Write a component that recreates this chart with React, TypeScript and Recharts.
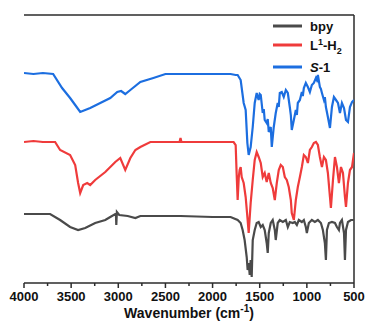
import { LineChart, Line, XAxis, YAxis, ReferenceLine, Legend, Label } from "recharts";

// [wavenumber (cm-1), transmittance (a.u., offset)]
const bpy: [number, number][] = [
  [4000, 69], [3850, 69], [3723, 69], [3617, 63], [3511, 56], [3426, 53], [3351, 55],
  [3245, 60], [3138, 63], [3085, 66], [3032, 69], [3025, 69], [3021, 58], [3015, 71],
  [2990, 68], [2900, 67], [2819, 65], [2766, 67], [2500, 67], [2340, 67], [2000, 66],
  [1809, 66], [1734, 63], [1702, 60], [1681, 53], [1660, 43], [1638, 26], [1628, 13],
  [1617, 20], [1606, 8], [1596, 23], [1585, 6], [1574, 43], [1553, 53], [1532, 60],
  [1511, 61], [1489, 56], [1468, 58], [1447, 53], [1426, 40], [1415, 30], [1404, 50],
  [1383, 60], [1362, 63], [1340, 53], [1330, 43], [1309, 60], [1287, 63], [1255, 61],
  [1223, 63], [1202, 56], [1181, 61], [1149, 60], [1128, 61], [1106, 58], [1085, 63],
  [1053, 61], [1032, 63], [1011, 56], [1000, 50], [979, 60], [947, 63], [915, 61],
  [883, 63], [851, 60], [830, 53], [809, 40], [798, 23], [787, 53], [766, 60],
  [734, 61], [702, 60], [681, 56], [660, 53], [649, 60], [628, 63], [606, 50],
  [596, 23], [585, 53], [564, 61], [532, 63], [500, 63],
];

const ligand: [number, number][] = [
  [4000, 141], [3900, 142], [3800, 141], [3670, 141], [3617, 133], [3511, 128],
  [3457, 118], [3426, 100], [3404, 90], [3372, 98], [3330, 100], [3298, 98],
  [3245, 103], [3138, 111], [3032, 121], [2979, 125], [2926, 113], [2872, 125],
  [2819, 133], [2766, 136], [2660, 141], [2350, 141], [2340, 145], [2330, 141],
  [2128, 141], [1900, 141], [1809, 141], [1777, 141], [1755, 138], [1745, 110],
  [1734, 83], [1722, 106], [1713, 113], [1702, 116], [1691, 106], [1670, 100],
  [1649, 86], [1628, 63], [1617, 50], [1596, 80], [1574, 103], [1553, 123],
  [1532, 131], [1511, 126], [1489, 120], [1468, 106], [1447, 110], [1426, 101],
  [1404, 110], [1383, 100], [1362, 95], [1340, 83], [1319, 100], [1298, 113],
  [1277, 118], [1255, 116], [1234, 106], [1213, 103], [1192, 96], [1170, 83],
  [1160, 70], [1138, 63], [1117, 83], [1096, 96], [1074, 106], [1053, 116],
  [1032, 128], [1011, 126], [989, 120], [968, 133], [947, 136], [926, 140],
  [904, 141], [883, 138], [862, 126], [840, 116], [819, 126], [798, 123],
  [777, 110], [755, 86], [745, 75], [723, 103], [702, 126], [681, 116],
  [660, 100], [638, 116], [617, 110], [596, 86], [585, 76], [564, 100],
  [543, 113], [521, 116], [500, 130],
];

const complexS1: [number, number][] = [
  [4000, 210], [3900, 209], [3800, 210], [3691, 209], [3596, 195], [3511, 185],
  [3457, 178], [3404, 171], [3351, 173], [3298, 175], [3191, 180], [3085, 185],
  [3011, 191], [2970, 192], [2926, 189], [2872, 193], [2766, 201], [2628, 205],
  [2500, 209], [2340, 209], [2128, 209], [1900, 209], [1809, 209], [1755, 208],
  [1734, 208], [1702, 203], [1670, 180], [1649, 173], [1631, 140], [1617, 128],
  [1596, 136], [1574, 156], [1553, 180], [1532, 190], [1521, 186], [1511, 183],
  [1500, 189], [1489, 188], [1468, 170], [1457, 174], [1447, 163], [1426, 160],
  [1415, 164], [1404, 151], [1383, 156], [1372, 136], [1351, 156], [1330, 170],
  [1309, 180], [1298, 176], [1287, 190], [1266, 191], [1245, 186], [1223, 193],
  [1202, 190], [1181, 176], [1170, 168], [1160, 153], [1138, 163], [1117, 173],
  [1106, 168], [1096, 180], [1074, 183], [1053, 191], [1043, 187], [1032, 195],
  [1011, 200], [989, 196], [968, 191], [947, 198], [926, 200], [904, 205],
  [894, 203], [883, 208], [862, 196], [851, 194], [840, 190], [819, 183],
  [809, 186], [798, 176], [777, 166], [755, 155], [734, 176], [713, 186],
  [691, 183], [670, 180], [649, 170], [628, 180], [606, 175], [585, 163],
  [564, 161], [543, 176], [521, 181], [500, 183],
];

const xTicks = [4000, 3750, 3500, 3250, 3000, 2750, 2500, 2250, 2000, 1750, 1500, 1250, 1000, 750, 500];

const toRows = (pts: [number, number][]) => pts.map(([wn, t]) => ({ wn, t }));

const AXIS = "#2b2b2b";
const FONT = "'Liberation Sans', Arial, sans-serif";

function XTick(props: any) {
  const { x, y, payload } = props;
  const major = payload.value % 500 === 0;
  return (
    <g>
      <line x1={x} x2={x} y1={y} y2={y + (major ? 5 : 3)} stroke={AXIS} strokeWidth={1.5} />
      {major && (
        <text x={x} y={y + 18} textAnchor="middle" fontFamily={FONT} fontWeight="bold" fontSize={13} fill="#111">
          {payload.value}
        </text>
      )}
    </g>
  );
}

function AxisTitle(props: any) {
  const vb = props.viewBox || {};
  const cx = vb.x + vb.width / 2;
  return (
    <text x={cx} y={vb.y + 35} textAnchor="middle" fontFamily={FONT} fontWeight="bold" fontSize={14} fill="#111">
      Wavenumber (cm
      <tspan fontSize={10} dy={-6}>-1</tspan>
      <tspan dy={6}>)</tspan>
    </text>
  );
}

function SpectraLegend() {
  const text = { fontFamily: FONT, fontWeight: "bold" as const, fontSize: 13, fill: "#111" };
  return (
    <svg width={100} height={64}>
      <line x1={5} x2={34} y1={12} y2={12} stroke="#4a4a4a" strokeWidth={3} />
      <text x={42} y={16.5} {...text}>bpy</text>
      <line x1={5} x2={34} y1={31} y2={31} stroke="#ef3b3b" strokeWidth={3} />
      <text x={42} y={35.5} {...text}>
        L<tspan fontSize={9} dy={-5}>1</tspan>
        <tspan dy={5}>-H</tspan>
        <tspan fontSize={9} dy={4}>2</tspan>
      </text>
      <line x1={5} x2={34} y1={53} y2={53} stroke="#1c6ee0" strokeWidth={3} />
      <text x={42} y={57.5} {...text}>
        <tspan fontStyle="italic">S</tspan>-1
      </text>
    </svg>
  );
}

export default function App() {
  return (
    <div style={{ position: "absolute", left: 0, top: 0, background: "#fff" }}>
      <LineChart width={367} height={327} margin={{ top: 15, right: 13, left: 24, bottom: 0 }}>
        <XAxis
          dataKey="wn"
          type="number"
          domain={[500, 4000]}
          reversed
          allowDataOverflow
          ticks={xTicks}
          interval={0}
          tickLine={false}
          tickSize={0}
          tickMargin={0}
          tick={<XTick />}
          height={44}
          axisLine={{ stroke: AXIS, strokeWidth: 1.5 }}
        >
          <Label content={<AxisTitle />} />
        </XAxis>
        <YAxis
          type="number"
          domain={[0, 268]}
          allowDataOverflow
          tick={false}
          tickLine={false}
          width={0}
          axisLine={{ stroke: AXIS, strokeWidth: 1.5 }}
        />
        <ReferenceLine y={268} stroke={AXIS} strokeWidth={1.5} />
        <ReferenceLine x={500} stroke={AXIS} strokeWidth={1.5} />
        <Legend
          layout="vertical"
          align="center"
          verticalAlign="middle"
          content={<SpectraLegend />}
          wrapperStyle={{ left: 268, top: 14, width: 100, height: 64 }}
        />
        <Line data={toRows(bpy)} dataKey="t" name="bpy" type="linear" stroke="#4a4a4a" strokeWidth={2.2} dot={false} isAnimationActive={false} />
        <Line data={toRows(ligand)} dataKey="t" name="L1-H2" type="linear" stroke="#ef3b3b" strokeWidth={2.2} dot={false} isAnimationActive={false} />
        <Line data={toRows(complexS1)} dataKey="t" name="S-1" type="linear" stroke="#1c6ee0" strokeWidth={2.2} dot={false} isAnimationActive={false} />
      </LineChart>
    </div>
  );
}
